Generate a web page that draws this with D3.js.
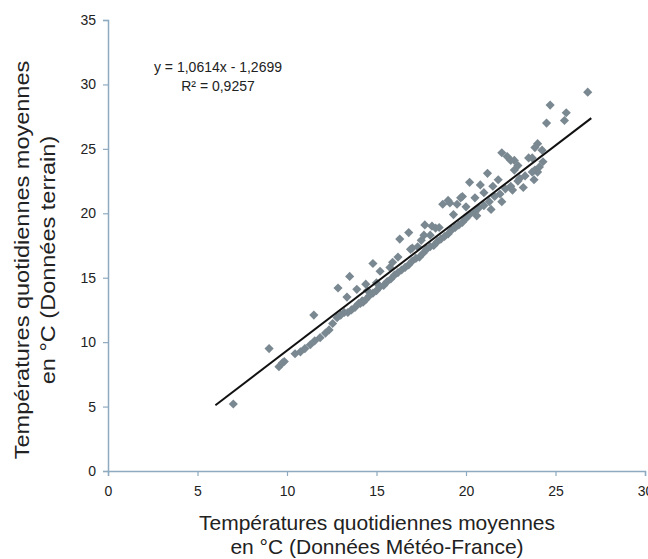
<!DOCTYPE html>
<html>
<head>
<meta charset="utf-8">
<script src="https://cdn.jsdelivr.net/npm/d3@7/dist/d3.min.js"></script>
<style>
  html, body { margin: 0; padding: 0; background: #fff; }
  svg { display: block; }
  text { font-family: "Liberation Sans", Arial, sans-serif; fill: #222; }
</style>
</head>
<body>
<svg id="chart" width="648" height="559"></svg>
<script>
// ---- Data (Météo-France x, terrain y) ----
const observations = [
  [7.0,5.2],[9.0,9.5],[9.55,8.1],[9.75,8.4],[9.85,8.5],
  [10.45,9.1],[10.75,9.25],[11.0,9.5],[11.3,9.8],[11.55,10.1],[11.85,10.35],[12.15,10.7],[12.35,10.95],[12.55,11.45],
  [11.5,12.1],
  [12.85,14.2],[13.35,13.5],[13.5,15.1],[13.9,14.1],[14.1,13.0],[14.25,13.1],[14.5,14.0],[14.8,16.1],[15.0,14.6],
  [15.2,15.5],[15.75,15.8],[16.2,16.6],[16.3,18.0],[16.8,18.5],[17.3,17.4],[17.7,19.1],[17.65,18.3],[18.3,18.85],
  [18.7,20.7],[19.1,20.8],[19.5,20.7],[19.8,21.3],[19.0,21.0],[19.7,21.2],[20.2,22.4],[20.8,22.2],[21.2,23.1],
  [22.0,24.7],[22.3,24.4],[22.5,24.1],[22.7,24.1],[22.9,23.7],[23.5,24.3],[24.0,25.4],[24.0,23.2],[22.6,21.8],
  [23.0,22.7],[23.85,25.1],[24.25,24.9],[23.7,24.3],[23.85,23.35],[22.7,23.35],[24.5,27.0],[24.7,28.4],[25.5,27.2],
  [25.6,27.8],[26.8,29.4],
  [12.8,11.9],[13.0,12.1],[13.2,12.3],[13.4,12.3],[13.6,12.5],[13.8,12.7],[14.0,13.0],[14.2,13.2],[14.4,13.3],
  [14.6,13.6],[14.8,13.8],[15.0,14.0],[15.2,14.3],[15.4,14.4],[15.6,14.7],[15.8,14.9],[16.0,15.2],[16.2,15.4],
  [16.4,15.6],[16.6,15.8],[16.8,16.0],[17.0,16.3],[17.2,16.5],[17.4,16.6],[17.6,16.9],[17.8,17.2],[18.0,17.4],
  [18.2,17.5],[18.4,17.8],[18.6,18.0],[18.8,18.2],[19.0,18.4],[19.2,18.7],[19.4,18.9],[19.6,19.1],[19.8,19.3],
  [20.0,19.6],[20.2,19.9],[20.5,20.1],[20.7,20.4],[21.0,20.6],[21.3,20.9],[21.6,21.3],[21.9,21.5],[22.2,21.9],
  [22.5,22.1],[22.9,22.5],[23.3,22.9],[23.7,23.2],[24.1,23.6],
  [17.0,17.3],[17.5,17.9],[18.0,18.3],[18.5,18.9],[19.3,19.9],[20.0,20.5],[20.5,21.2],[21.0,21.6],[21.5,22.1],
  [21.8,22.6],[20.6,19.8],[21.4,20.3],[22.0,20.9],[23.2,22.0],[23.8,22.6],[18.1,19.0],[16.9,17.2],[15.9,16.2],
  [14.4,14.5],[24.3,24.0]
];
const xTicks = [0, 5, 10, 15, 20, 25, 30];
const yTicks = [0, 5, 10, 15, 20, 25, 30, 35];
const trend = { slope: 1.0614, intercept: -1.2699, xStart: 6, xEnd: 27 };
const equationLines = ["y = 1,0614x - 1,2699", "R² = 0,9257"];
const xTitle = ["Températures quotidiennes moyennes", "en °C (Données Météo-France)"];
const yTitle = ["Températures quotidiennes moyennes", "en °C (Données terrain)"];

// ---- Layout ----
const svg = d3.select("#chart");
const x = d3.scaleLinear().domain([0, 30]).range([108, 645]);
const y = d3.scaleLinear().domain([0, 35]).range([471, 20]);
const axisColor = "#8eaac0";

// axes
const gx = svg.append("g").attr("transform", `translate(0,${y(0)})`)
  .call(d3.axisBottom(x).tickValues(xTicks).tickSize(5).tickPadding(10).tickFormat(d3.format("d")));
const gy = svg.append("g").attr("transform", `translate(${x(0)},0)`)
  .call(d3.axisLeft(y).tickValues(yTicks).tickSize(5).tickPadding(7).tickFormat(d3.format("d")));
[gx, gy].forEach(g => {
  g.select(".domain").attr("stroke", axisColor).attr("stroke-width", 1.5);
  g.selectAll(".tick line").attr("stroke", axisColor).attr("stroke-width", 1.2);
  g.selectAll(".tick text").attr("fill", "#1a1a1a").style("font-size", "14px")
    .style("font-family", '"Liberation Sans", Arial, sans-serif');
});

// points (diamonds)
const diamond = d3.symbol().type(d3.symbolSquare).size(42);
svg.append("g").selectAll("path").data(observations).join("path")
  .attr("d", diamond)
  .attr("transform", d => `translate(${x(d[0])},${y(d[1])}) rotate(45)`)
  .attr("fill", "#7a8891");

// trend line
svg.append("line")
  .attr("x1", x(trend.xStart)).attr("y1", y(trend.slope * trend.xStart + trend.intercept))
  .attr("x2", x(trend.xEnd)).attr("y2", y(trend.slope * trend.xEnd + trend.intercept))
  .attr("stroke", "#111").attr("stroke-width", 2);

// equation
svg.append("g").selectAll("text").data(equationLines).join("text")
  .attr("x", 218).attr("y", (d, i) => 72 + i * 19)
  .attr("text-anchor", "middle").style("font-size", "14px")
  .text(d => d);

// x title
svg.append("g").selectAll("text").data(xTitle).join("text")
  .attr("x", 377).attr("y", (d, i) => 530 + i * 24)
  .attr("text-anchor", "middle").style("font-size", "21px")
  .text(d => d);

// y title (stretched along its direction like the reference)
svg.append("g").attr("transform", "translate(0,260) rotate(-90) scale(1.12,1)")
  .selectAll("text").data(yTitle).join("text")
  .attr("x", 0).attr("y", (d, i) => 29 + i * 26)
  .attr("text-anchor", "middle").style("font-size", "21px")
  .text(d => d);
</script>
</body>
</html>
